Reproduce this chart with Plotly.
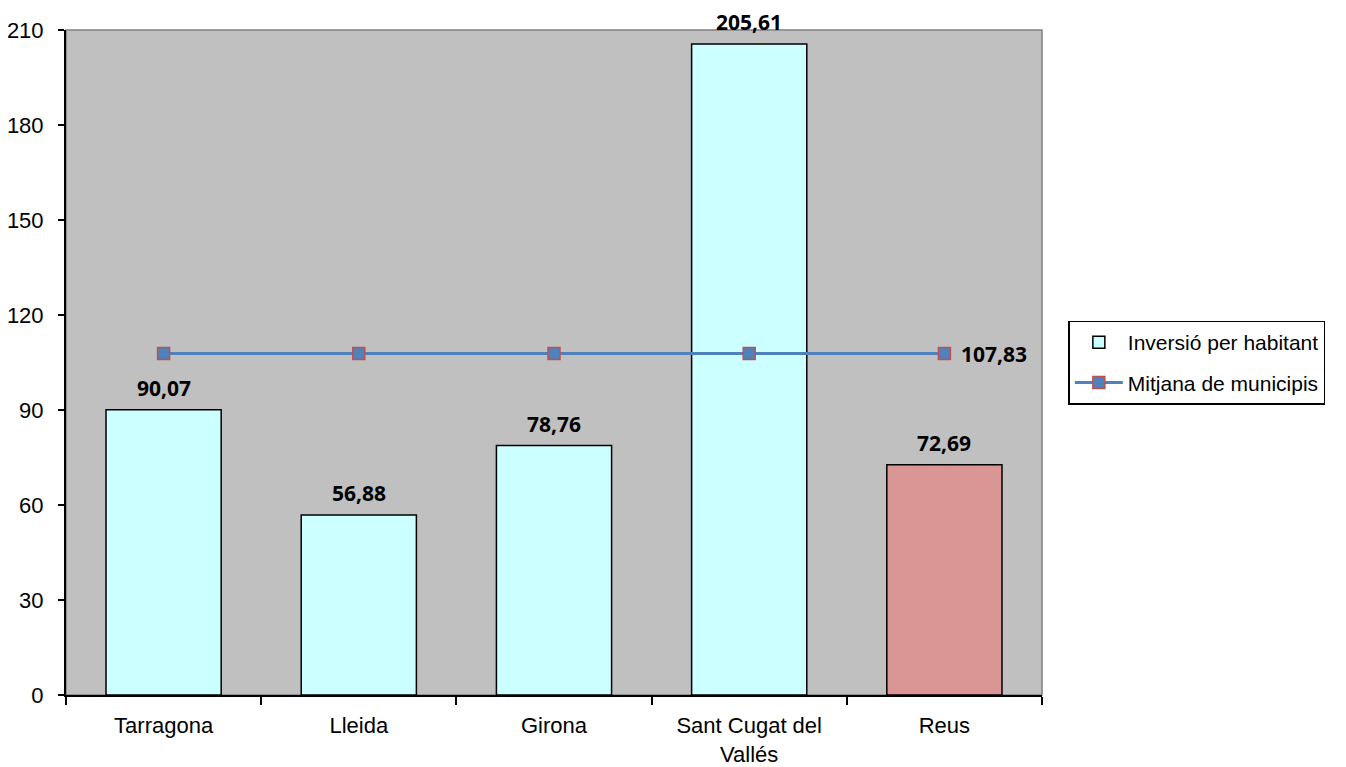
import plotly.graph_objects as go

categories = ["Tarragona", "Lleida", "Girona", "Sant Cugat del<br>Vallés", "Reus"]
inversio = [90.07, 56.88, 78.76, 205.61, 72.69]
mitjana = [107.83, 107.83, 107.83, 107.83, 107.83]
bar_colors = ["#CCFFFF", "#CCFFFF", "#CCFFFF", "#CCFFFF", "#D99694"]
y_ticks = [0, 30, 60, 90, 120, 150, 180, 210]

label_font = dict(family="Open Sans", size=21, color="black", weight="bold")


def fmt(v):
    return ("%.2f" % v).replace(".", ",")


fig = go.Figure()
fig.add_trace(go.Bar(
    x=categories, y=inversio, name="Inversió per habitant",
    marker=dict(color=bar_colors, line=dict(color="black", width=1.5)),
    width=0.59, legendgroup="a",
))
fig.add_trace(go.Scatter(
    x=categories, y=mitjana, name="Mitjana de municipis",
    mode="lines+markers", legendgroup="b",
    line=dict(color="#4F81BD", width=3),
    marker=dict(symbol="square", size=12, color="#4F81BD", line=dict(color="#C0504D", width=1.5)),
    cliponaxis=False,
))

for c, v in zip(categories, inversio):
    fig.add_annotation(x=c, y=v, text=fmt(v), showarrow=False, yanchor="bottom",
                       yshift=7, borderpad=0, font=label_font)
fig.add_annotation(x=categories[-1], y=mitjana[-1], text=fmt(mitjana[-1]), showarrow=False,
                   xanchor="left", xshift=16, borderpad=0, font=label_font)

fig.update_layout(
    width=1346, height=767,
    margin=dict(l=58, r=312, t=22, b=80),
    paper_bgcolor="white", plot_bgcolor="#C0C0C0",
    separators=",.",
    bargap=0.41,
    font=dict(family="Liberation Sans", size=22, color="black"),
    showlegend=True,
    legend=dict(
        x=1.027, y=0.5, xanchor="left", yanchor="middle",
        bordercolor="black", borderwidth=1.5, bgcolor="white",
        font=dict(family="Liberation Sans", size=21, color="black"),
        tracegroupgap=10, itemwidth=48,
    ),
)
fig.update_xaxes(
    type="category", showline=True, linecolor="black", linewidth=2,
    mirror=False, ticks="outside", tickson="boundaries", ticklen=8,
    tickcolor="black", tickwidth=1.5, showgrid=False, ticklabelstandoff=10,
    automargin=False,
)
fig.update_yaxes(
    range=[0, 210], tickvals=y_ticks, showline=True, linecolor="black",
    linewidth=2, ticks="outside", ticklen=6, tickcolor="black", tickwidth=1.5,
    showgrid=False, zeroline=False, ticklabelstandoff=10, automargin=False,
)
fig.add_shape(type="rect", xref="paper", yref="paper", x0=0, x1=1, y0=0, y1=1,
              line=dict(color="#808080", width=1.5), layer="below")

fig.write_html("out.html")
